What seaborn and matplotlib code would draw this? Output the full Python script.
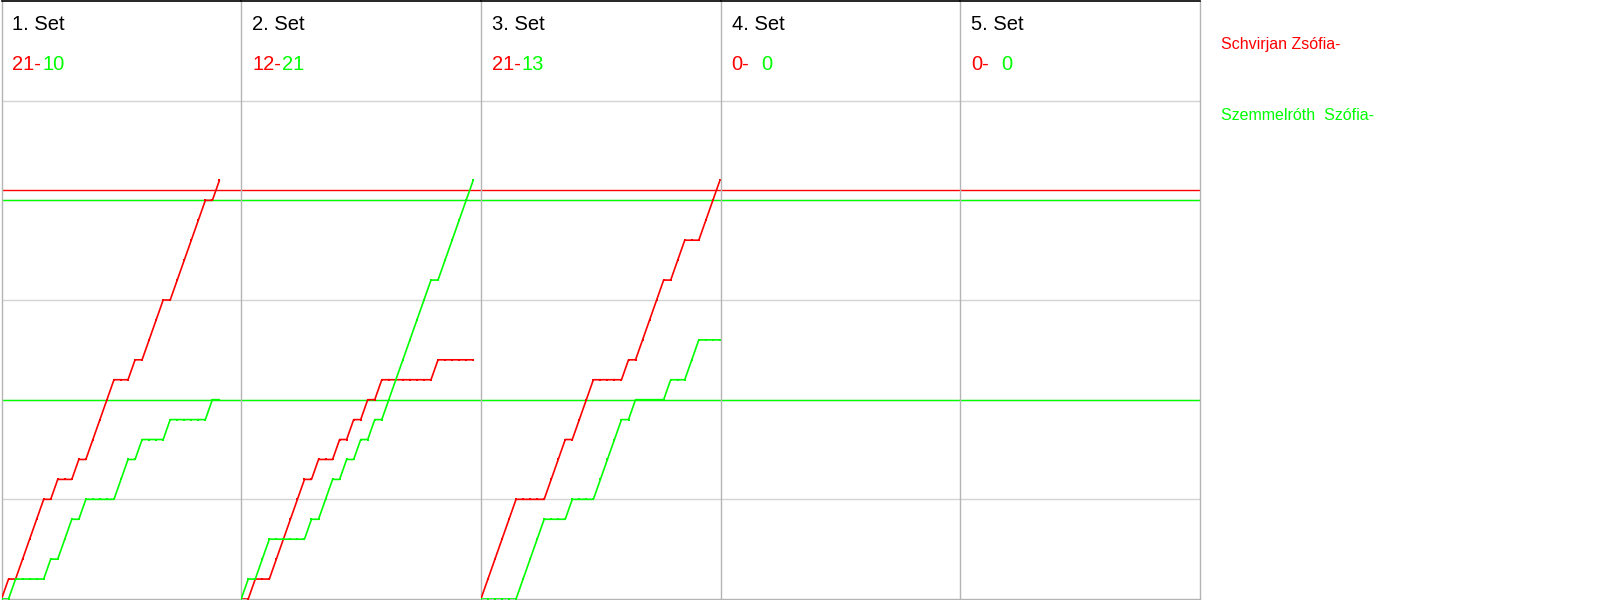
import pandas as pd
import seaborn as sns
import matplotlib.pyplot as plt

# set headers and final scores
set_names = ["1. Set", "2. Set", "3. Set", "4. Set", "5. Set"]
red_final = [21, 12, 21, 0, 0]
green_final = [10, 21, 13, 0, 0]

red_player = "Schvirjan Zsófia-"
green_player = "Szemmelróth  Szófia-"

# running score after each rally (rally 0 = 0-0)
set1_red = [0, 1, 1, 2, 3, 4, 5, 5, 6, 6, 6, 7, 7, 8, 9, 10, 11, 11, 11, 12, 12,
            13, 14, 15, 15, 16, 17, 18, 19, 20, 20, 21]
set1_green = [0, 0, 1, 1, 1, 1, 1, 2, 2, 3, 4, 4, 5, 5, 5, 5, 5, 6, 7, 7, 8,
              8, 8, 8, 9, 9, 9, 9, 9, 9, 10, 10]

set2_red = [0, 0, 1, 1, 1, 2, 3, 4, 5, 6, 6, 7, 7, 7, 8, 8, 9, 9, 10, 10, 11,
            11, 11, 11, 11, 11, 11, 11, 12, 12, 12, 12, 12, 12]
set2_green = [0, 1, 1, 2, 3, 3, 3, 3, 3, 3, 4, 4, 5, 6, 6, 7, 7, 8, 8, 9, 9,
              10, 11, 12, 13, 14, 15, 16, 16, 17, 18, 19, 20, 21]

set3_red = [0, 1, 2, 3, 4, 5, 5, 5, 5, 5, 6, 7, 8, 8, 9, 10, 11, 11, 11, 11, 11,
            12, 12, 13, 14, 15, 16, 16, 17, 18, 18, 18, 19, 20, 21]
set3_green = [0, 0, 0, 0, 0, 0, 1, 2, 3, 4, 4, 4, 4, 5, 5, 5, 5, 6, 7, 8, 9,
              9, 10, 10, 10, 10, 10, 11, 11, 11, 12, 13, 13, 13, 13]

red_sets = [set1_red, set2_red, set3_red, [], []]
green_sets = [set1_green, set2_green, set3_green, [], []]

# reference lines across the whole chart
red_lines = [20.5]
green_lines = [10, 20]
grid_levels = [5, 10, 15, 20, 25]

RED = "#ff0000"
GREEN = "#00ff00"

rows = []
for i in range(5):
    for k, v in enumerate(red_sets[i]):
        rows.append((i, k, v, red_player))
    for k, v in enumerate(green_sets[i]):
        rows.append((i, k, v, green_player))
df = pd.DataFrame(rows, columns=["set", "rally", "score", "player"])

sns.set_theme(style="white")
plt.rcParams["font.family"] = ["Liberation Sans", "DejaVu Sans"]

fig, axes = plt.subplots(1, 5, figsize=(16, 6), dpi=100, sharey=True)
fig.subplots_adjust(left=1.5 / 1600, right=1200 / 1600, bottom=1 / 600,
                    top=1 - 1 / 600, wspace=0)

for i, ax in enumerate(axes):
    for lv in grid_levels:
        ax.axhline(lv, color="#d3d3d3", lw=1.0, zorder=0)
    for lv in green_lines:
        ax.axhline(lv, color=GREEN, lw=1.0, zorder=1)
    for lv in red_lines:
        ax.axhline(lv, color=RED, lw=1.0, zorder=1)

    sub = df[df["set"] == i]
    if len(sub):
        sns.lineplot(data=sub, x="rally", y="score", hue="player",
                     palette={red_player: RED, green_player: GREEN},
                     hue_order=[red_player, green_player],
                     estimator=None, sort=False, legend=False,
                     marker="s", markersize=1.8, markeredgewidth=0,
                     lw=1.2, ax=ax, zorder=3)

    ax.set_xlim(0, 34.1)
    ax.set_ylim(0, 30)
    ax.set_xticks([])
    ax.set_yticks([])
    ax.set_xlabel("")
    ax.set_ylabel("")

    for side in ["left", "right", "bottom"]:
        ax.spines[side].set_color("#b4b4b4")
        ax.spines[side].set_linewidth(1.0)
    ax.spines["top"].set_color("black")
    ax.spines["top"].set_linewidth(1.2)
    ax.spines["right"].set_visible(i == 4)

    ax.text(11 / 240, 1 - 24 / 600, set_names[i], transform=ax.transAxes,
            fontsize=14.5, color="black", va="center", ha="left")
    ax.text(11 / 240, 1 - 64 / 600, f"{red_final[i]}-", transform=ax.transAxes,
            fontsize=14.5, color=RED, va="center", ha="left")
    ax.text(41 / 240, 1 - 64 / 600, f"{green_final[i]}", transform=ax.transAxes,
            fontsize=14.5, color=GREEN, va="center", ha="left")

fig.text(1221 / 1600, 1 - 45 / 600, red_player, color=RED, fontsize=11.5,
         va="center", ha="left")
fig.text(1221 / 1600, 1 - 115 / 600, green_player, color=GREEN, fontsize=11.5,
         va="center", ha="left")

fig.savefig("out.png", dpi=100, facecolor="white")
